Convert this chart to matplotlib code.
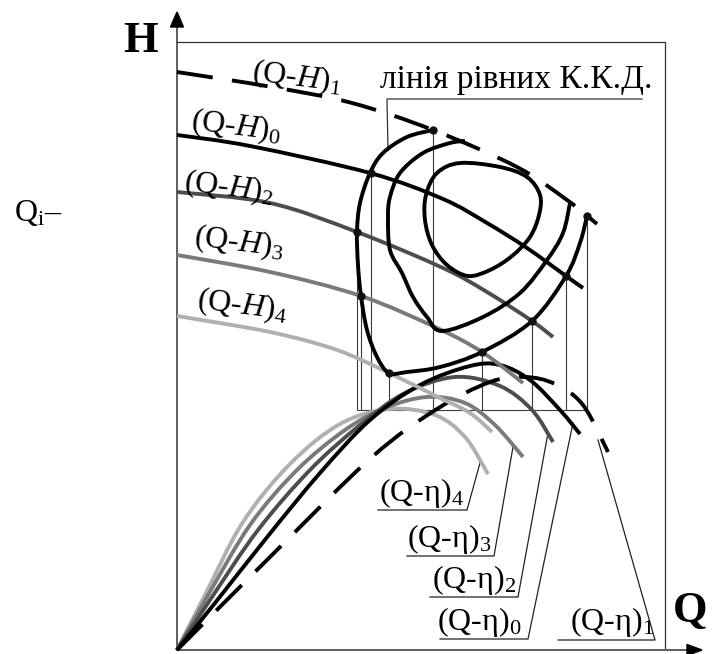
import matplotlib
matplotlib.use("Agg")
import matplotlib.pyplot as plt
import numpy as np
from matplotlib.patches import PathPatch, Polygon
from matplotlib.path import Path

plt.rcParams["font.family"] = ["Liberation Serif", "DejaVu Serif"]
plt.rcParams["mathtext.fontset"] = "custom"
plt.rcParams["mathtext.rm"] = "Liberation Serif"
plt.rcParams["mathtext.it"] = "Liberation Serif:italic"
plt.rcParams["mathtext.bf"] = "Liberation Serif:bold"
plt.rcParams["lines.scale_dashes"] = False

# drawing units: x grows with Q, y grows downward (H up the page)
ORIGIN = (177, 650)
FRAME_TOP = 42
FRAME_RIGHT = 665

# head curves (Q-H) for the different impeller diameters
QH_1 = [(177, 72), (272, 87), (352, 103), (433, 130), (517, 167), (567, 200), (597, 224)]
QH_0 = [(177, 135), (250, 146), (370, 173), (443, 199), (487, 223), (527, 248), (566, 276), (583, 288)]
QH_2 = [(177, 192), (270, 203), (357, 232), (443, 268), (487, 292), (532, 321), (553, 337)]
QH_3 = [(177, 255), (270, 272), (361, 296), (437, 328), (482, 352), (523, 383)]
QH_4 = [(177, 316), (270, 332), (337, 350), (389, 373), (440, 398), (470, 413), (492, 432)]

# efficiency curves (Q-eta)
QE_1 = [(177, 650), (275, 552), (372, 457), (437, 409), (490, 382), (525, 377), (555, 384),
        (583, 405), (608, 452)]
QE_0 = [(177, 650), (215, 603), (268, 536), (320, 473), (370, 420), (420, 385), (470, 366),
        (500, 365), (530, 380), (560, 410), (580, 434)]
QE_2 = [(177, 650), (210, 600), (258, 530), (310, 470), (360, 425), (405, 393), (455, 377),
        (500, 386), (532, 410), (553, 442)]
QE_3 = [(177, 650), (207, 597), (250, 525), (297, 470), (345, 430), (385, 408), (427, 397),
        (465, 403), (495, 425), (523, 457)]
QE_4 = [(177, 650), (205, 595), (243, 522), (290, 464), (340, 424), (390, 409), (435, 415),
        (465, 437), (488, 474)]

# lines of equal efficiency
ISO_OUTER = [(433, 130), (407, 137), (383, 153), (370, 173), (360, 203), (357, 232), (358, 265),
             (361, 296), (367, 330), (377, 357), (389, 373), (407, 372), (440, 367), (482, 352),
             (532, 321), (566, 276), (580, 243), (587, 216)]
ISO_MIDDLE = [(465, 141), (450, 143), (423, 153), (400, 173), (390, 197), (388, 217), (390, 250),
              (402, 273), (413, 297), (427, 317), (442, 331), (483, 317), (520, 293), (547, 260),
              (563, 233), (570, 203)]
ISO_INNER = [(460, 163), (500, 167), (527, 177), (540, 195), (539, 215), (530, 237), (512, 256),
             (490, 270), (468, 276), (447, 265), (432, 245), (425, 220), (426, 195), (437, 173)]

# crossings of the outer iso-line with the head curves
DOT_X = [433, 371, 357, 361, 389, 482, 532, 566, 587]
DOT_Y = [130, 173, 232, 296, 373, 352, 321, 276, 216]
PROJECTION_FLOOR = 410

QH_LABELS = ["(Q-$H)_1$", "(Q-$H)_0$", "(Q-$H)_2$", "(Q-$H)_3$", "(Q-$H)_4$"]
QH_LABEL_X = [251, 190, 183, 193, 196]
QH_LABEL_Y = [80, 129, 190, 245, 308]

QE_LABELS = ["(Q-η$)_4$", "(Q-η$)_3$", "(Q-η$)_2$", "(Q-η$)_0$", "(Q-η$)_1$"]
QE_LABEL_X = [379, 407, 432, 437, 570]
QE_LABEL_Y = [501, 547, 588, 630, 630]
UNDER_X0 = [378, 407, 430, 440, 558]
UNDER_X1 = [467, 494, 518, 528, 655]
UNDER_Y = [510, 556, 597, 639, 640]
LEADER_TIP_X = [480, 513, 548, 573, 598]
LEADER_TIP_Y = [463, 447, 433, 423, 440]

BLACK = "#000000"
DARK = "#4d4d4d"
MID = "#7a7a7a"
LIGHT = "#b0b0b0"
THICK = 2.8


def smooth_path(points, closed=False):
    p = np.asarray(points, dtype=float)
    n = len(p)
    if closed:
        ext = np.vstack([p[-1], p, p[0], p[1]])
    else:
        ext = np.vstack([p[0], p, p[-1]])
    verts = [p[0]]
    codes = [Path.MOVETO]
    for i in range(n if closed else n - 1):
        a, b, c, d = ext[i], ext[i + 1], ext[i + 2], ext[i + 3]
        verts += [b + (c - a) / 6, c - (d - b) / 6, c]
        codes += [Path.CURVE4] * 3
    return Path(verts, codes)


def draw_curve(ax, points, color, dashed=False, closed=False, z=3):
    ls = (0, (26, 14)) if dashed else "-"
    ax.add_patch(PathPatch(smooth_path(points, closed), fill=False, edgecolor=color,
                           linewidth=THICK, linestyle=ls, capstyle="butt", zorder=z))


fig = plt.figure(figsize=(7.15, 6.54), dpi=100)
ax = fig.add_axes([0, 0, 1, 1])
ax.set_xlim(0, 715)
ax.set_ylim(654, 0)
ax.axis("off")

# axes with arrows and the frame
ox, oy = ORIGIN
ax.plot([ox, ox], [oy, 22], color="#333333", lw=1.1, zorder=2)
ax.plot([ox, 690], [oy, oy], color="#333333", lw=1.1, zorder=2)
ax.add_patch(Polygon([(ox, 12), (ox - 6.5, 27), (ox + 6.5, 27)], color="black", zorder=2))
ax.add_patch(Polygon([(702, oy), (687, oy - 5.5), (687, oy + 5.5)], color="black", zorder=2))
ax.plot([ox, FRAME_RIGHT, FRAME_RIGHT], [FRAME_TOP, FRAME_TOP, oy - 2], color="#333333",
        lw=0.9, zorder=2)

# projection lines from the crossings down to the efficiency field
ax.vlines(DOT_X, DOT_Y, PROJECTION_FLOOR, colors="#3a3a3a", lw=0.8, zorder=2)
ax.hlines(PROJECTION_FLOOR, min(DOT_X), max(DOT_X), colors="#3a3a3a", lw=0.8, zorder=2)

# efficiency curves
for pts, col, dash in [(QE_4, LIGHT, False), (QE_3, MID, False), (QE_2, DARK, False),
                       (QE_0, BLACK, False), (QE_1, BLACK, True)]:
    draw_curve(ax, pts, col, dashed=dash)

# head curves
for pts, col, dash in [(QH_4, LIGHT, False), (QH_3, MID, False), (QH_2, DARK, False),
                       (QH_0, BLACK, False), (QH_1, BLACK, True)]:
    draw_curve(ax, pts, col, dashed=dash, z=4)

# iso-efficiency lines
draw_curve(ax, ISO_OUTER, BLACK, z=5)
draw_curve(ax, ISO_MIDDLE, BLACK, z=5)
draw_curve(ax, ISO_INNER, BLACK, closed=True, z=5)
ax.scatter(DOT_X, DOT_Y, s=36, color="#111111", zorder=6, linewidths=0)

# leader for the iso-line caption
ax.plot([642, 387, 388], [99, 99, 150], color="#333333", lw=0.9, zorder=2)
ax.text(653, 88, "лінія рівних К.К.Д.", fontsize=24, ha="right", va="baseline")

# head curve labels
for text, x, y in zip(QH_LABELS, QH_LABEL_X, QH_LABEL_Y):
    ax.text(x, y, text, fontsize=23, rotation=-7, rotation_mode="anchor",
            ha="left", va="baseline", zorder=7)

# efficiency labels with leaders
for i, text in enumerate(QE_LABELS):
    ax.text(QE_LABEL_X[i], QE_LABEL_Y[i], text, fontsize=23, ha="left", va="baseline")
    ax.plot([UNDER_X0[i], UNDER_X1[i], LEADER_TIP_X[i]],
            [UNDER_Y[i], UNDER_Y[i], LEADER_TIP_Y[i]], color="#222222", lw=0.9)

ax.text(141, 52, "H", fontsize=32, fontweight="bold", ha="center", va="baseline")
ax.text(690, 622, "Q", fontsize=32, fontweight="bold", ha="center", va="baseline")
ax.text(14, 221, "Q$_{\\mathrm{i}}$–", fontsize=23, ha="left", va="baseline")

fig.savefig("out.png", dpi=100)
